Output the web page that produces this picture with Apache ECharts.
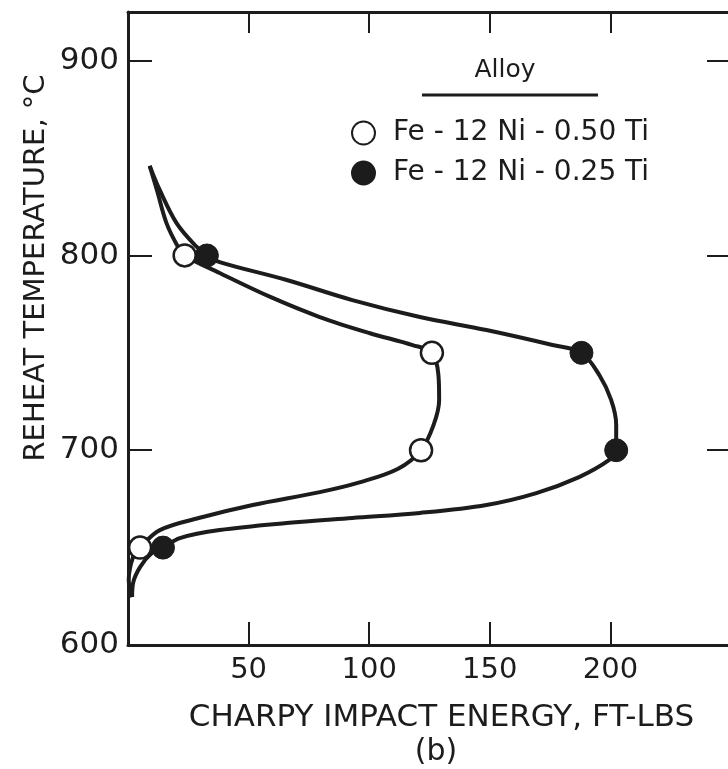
<!DOCTYPE html>
<html>
<head>
<meta charset="utf-8">
<script src="https://cdn.jsdelivr.net/npm/echarts@6/dist/echarts.min.js"></script>
<style>
  html, body { margin: 0; padding: 0; background: #fff; overflow: hidden; }
  #chart { width: 734px; height: 769px; }
</style>
</head>
<body>
<div id="chart"></div>
<script>
// energy (ft-lbs), reheat temperature (C) pairs
const ti50Curve = [
  [9, 846], [12, 833.5], [16, 816.5], [20.7, 804.5], [23.5, 800],
  [38, 791], [59, 778.7], [79.5, 768.4], [100, 760.2], [118, 754], [126, 750],
  [128.7, 738.6], [129, 725.8], [126.7, 713], [121.5, 700],
  [112, 690.5], [96, 683.5], [79.5, 678.5], [51.7, 671.9], [31, 665.7], [13.2, 659],
  [5, 650], [2.1, 645.2], [0.3, 633.4], [1.7, 624.6]
];
const ti50Points = [[23.5, 800], [126, 750], [121.5, 700], [5, 650]];

const ti25Curve = [
  [9, 846], [13.2, 833.5], [20.2, 816.5], [28.4, 804.5], [32.7, 800],
  [38, 796.6], [65.8, 787.4], [93, 777.1], [121, 768.4], [148.6, 761.7], [176, 754], [188, 750],
  [195.4, 738.6], [200.3, 725.8], [202.4, 713], [202.4, 700],
  [199.5, 695], [187, 686.2], [169.3, 678], [148.6, 671.9], [121, 667.8], [93, 665.2],
  [65.8, 662.6], [38, 659], [21.5, 654.9], [14.5, 650],
  [9.9, 647.2], [5, 640], [2.1, 631.8], [1.7, 624.6]
];
const ti25Points = [[32.7, 800], [188, 750], [202.4, 700], [14.5, 650]];

const xTicks = [50, 100, 150, 200];
const yTicks = [600, 700, 800, 900];
const seriesNames = ['Fe - 12 Ni - 0.50 Ti', 'Fe - 12 Ni - 0.25 Ti'];

const ink = '#1c1c1c';
const font = "'DejaVu Sans', sans-serif";

const chart = echarts.init(document.getElementById('chart'));

chart.setOption({
  backgroundColor: '#fff',
  animation: false,
  grid: { left: 128, right: 2, top: 12, bottom: 124 },
  legend: {
    orient: 'vertical',
    left: 346,
    top: 114,
    itemGap: 12,
    itemWidth: 23,
    itemHeight: 23,
    data: seriesNames,
    textStyle: { color: ink, fontSize: 28, lineHeight: 28, fontFamily: font, padding: [0, 0, 0, 13] }
  },
  graphic: [
    {
      type: 'text', x: 505, y: 70,
      style: { text: 'Alloy', fill: ink, font: "25px 'DejaVu Sans', sans-serif", align: 'center', verticalAlign: 'middle' }
    },
    {
      type: 'line',
      shape: { x1: 422, y1: 95, x2: 598, y2: 95 },
      style: { stroke: ink, lineWidth: 3 }
    },
    {
      type: 'text', x: 36, y: 268, rotation: Math.PI / 2,
      style: { text: 'REHEAT TEMPERATURE, °C', fill: ink, font: "29px 'DejaVu Sans', sans-serif", align: 'center', verticalAlign: 'middle' }
    },
    {
      type: 'text', x: 436, y: 752,
      style: { text: '(b)', fill: ink, font: "30px 'DejaVu Sans', sans-serif", align: 'center', verticalAlign: 'middle' }
    }
  ],
  xAxis: [
    {
      type: 'value', min: 0, max: 250, interval: 50,
      name: 'CHARPY IMPACT ENERGY, FT-LBS',
      nameLocation: 'middle', nameGap: 57,
      nameTextStyle: { color: ink, fontSize: 31, fontFamily: font, padding: [0, 0, 0, 24] },
      axisLine: { onZero: false, lineStyle: { color: ink, width: 3 } },
      axisTick: { inside: true, length: 23, lineStyle: { color: ink, width: 2 } },
      axisLabel: {
        color: ink, fontSize: 29, fontFamily: font, margin: 11,
        formatter: v => xTicks.includes(v) ? String(v) : ''
      },
      splitLine: { show: false }
    },
    {
      type: 'value', min: 0, max: 250, interval: 50, position: 'top',
      axisLine: { show: true, onZero: false, lineStyle: { color: ink, width: 3 } },
      axisTick: { show: true, inside: true, length: 21, lineStyle: { color: ink, width: 2 } },
      axisLabel: { show: false },
      splitLine: { show: false }
    }
  ],
  yAxis: [
    {
      type: 'value', min: 600, max: 925, interval: 100,
      axisLine: { show: true, onZero: false, lineStyle: { color: ink, width: 3 } },
      axisTick: { show: true, inside: true, length: 24, lineStyle: { color: ink, width: 2 } },
      axisLabel: {
        color: ink, fontSize: 31, fontFamily: font, margin: 9,
        formatter: v => yTicks.includes(v) ? String(v) : ''
      },
      splitLine: { show: false }
    },
    {
      type: 'value', min: 600, max: 925, interval: 100, position: 'right',
      axisLine: { show: true, onZero: false, lineStyle: { color: ink, width: 3 } },
      axisTick: { show: true, inside: true, length: 24, lineStyle: { color: ink, width: 2 } },
      axisLabel: { show: false },
      splitLine: { show: false }
    }
  ],
  series: [
    {
      type: 'line', data: ti50Curve, smooth: 0.35, showSymbol: false,
      lineStyle: { color: ink, width: 4 }, z: 2
    },
    {
      type: 'line', data: ti25Curve, smooth: 0.35, showSymbol: false,
      lineStyle: { color: ink, width: 4 }, z: 2
    },
    {
      name: seriesNames[0], type: 'scatter', data: ti50Points, symbolSize: 22,
      itemStyle: { color: '#fff', borderColor: ink, borderWidth: 2.5, opacity: 1 }, z: 3
    },
    {
      name: seriesNames[1], type: 'scatter', data: ti25Points, symbolSize: 23,
      itemStyle: { color: ink, borderColor: ink, borderWidth: 1, opacity: 1 }, z: 3
    }
  ]
});
</script>
</body>
</html>
